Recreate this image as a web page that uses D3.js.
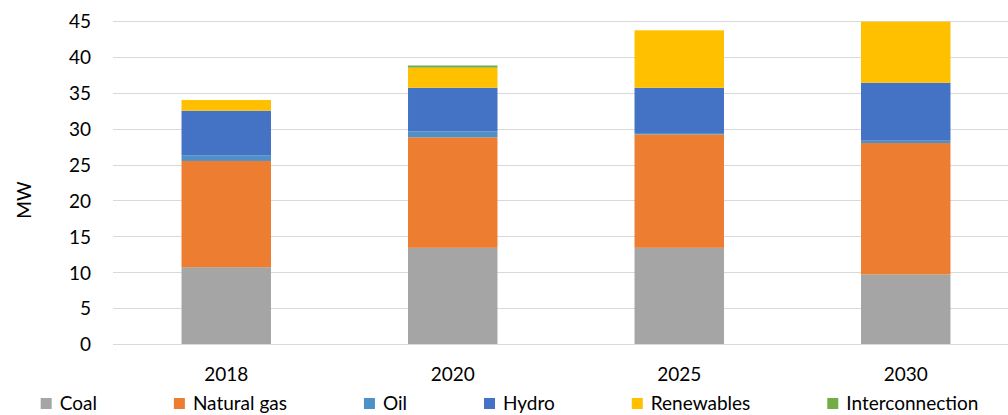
<!DOCTYPE html>
<html>
<head>
<meta charset="utf-8">
<script src="https://cdn.jsdelivr.net/npm/d3@7"></script>
<style>
  html, body { margin: 0; padding: 0; background: #fff; }
  svg { display: block; }
  text { font-family: Lato, "Open Sans", "Liberation Sans", sans-serif; fill: #000; }
</style>
</head>
<body>
<svg id="chart" width="1008" height="415"></svg>
<script>
const years = ["2018", "2020", "2025", "2030"];
const seriesNames = ["Coal", "Natural gas", "Oil", "Hydro", "Renewables", "Interconnection"];
const coal = [10.7, 13.4, 13.4, 9.7];
const naturalGas = [14.8, 15.4, 15.8, 18.3];
const oil = [0.8, 0.8, 0.2, 0.4];
const hydro = [6.2, 6.1, 6.3, 8.0];
const renewables = [1.5, 2.8, 8.0, 8.5];
const interconnection = [0, 0.3, 0, 0];
const yTicks = [0, 5, 10, 15, 20, 25, 30, 35, 40, 45];
const colors = ["#A5A5A5", "#ED7D31", "#5090C8", "#4472C4", "#FFC000", "#70AD47"];

const seriesValues = [coal, naturalGas, oil, hydro, renewables, interconnection];
const rows = years.map((y, i) => {
  const r = { year: y };
  seriesNames.forEach((s, k) => r[s] = seriesValues[k][i]);
  return r;
});
const stack = d3.stack().keys(seriesNames)(rows);

const svg = d3.select("#chart");
const margin = { left: 113, right: -11, top: 21, bottom: 71 };
const W = 1008, H = 415;

const x = d3.scaleBand().domain(years).range([margin.left, W - margin.right]).paddingInner(0.605).paddingOuter(0.3025);
const y = d3.scaleLinear().domain([0, 45]).range([H - margin.bottom, margin.top]);

// gridlines
svg.append("g").selectAll("line").data(yTicks.filter(t => t > 0)).join("line")
  .attr("x1", margin.left).attr("x2", W - margin.right)
  .attr("y1", d => Math.round(y(d)) + 0.5).attr("y2", d => Math.round(y(d)) + 0.5)
  .attr("stroke", "#D9D9D9").attr("stroke-width", 1);

// bars
const color = d3.scaleOrdinal().domain(seriesNames).range(colors);
svg.append("g").selectAll("g").data(stack).join("g")
  .attr("fill", d => color(d.key))
  .selectAll("rect").data(d => d).join("rect")
  .attr("x", d => x(d.data.year))
  .attr("width", x.bandwidth())
  .attr("y", d => y(d[1]))
  .attr("height", d => Math.max(0, y(d[0]) - y(d[1])));

// x axis line
svg.append("line")
  .attr("x1", margin.left).attr("x2", W - margin.right)
  .attr("y1", Math.round(y(0)) + 0.5).attr("y2", Math.round(y(0)) + 0.5)
  .attr("stroke", "#D9D9D9").attr("stroke-width", 1);

// y axis labels
const yAxis = d3.axisLeft(y).tickValues(yTicks).tickSize(0).tickPadding(0);
const gy = svg.append("g").attr("transform", "translate(91,0)").call(yAxis);
gy.select(".domain").remove();
gy.selectAll("text").attr("font-size", 19).attr("font-family", "Lato, sans-serif").attr("fill", "#000").attr("dy", "0.36em");

// x axis labels
const xAxis = d3.axisBottom(x).tickSize(0).tickPadding(0);
const gx = svg.append("g").attr("transform", `translate(0,${y(0) + 23})`).call(xAxis);
gx.select(".domain").remove();
gx.selectAll("text").attr("font-size", 19).attr("font-family", "Lato, sans-serif").attr("fill", "#000").attr("dy", "0.71em");

// y title
svg.append("text")
  .attr("transform", "translate(31,200) rotate(-90)")
  .attr("text-anchor", "middle")
  .attr("font-size", 19)
  .text("MW");

// legend
const legend = svg.append("g");
const items = legend.selectAll("g").data(seriesNames).join("g");
items.append("rect").attr("width", 11).attr("height", 11).attr("y", -12).attr("fill", (d, i) => colors[i]);
items.append("text").attr("x", 19).attr("font-size", 19).text(d => d);
let cx = 0;
const gap = 77;
items.each(function() {
  const w = this.getBBox().width;
  this.__x = cx;
  cx += w + gap;
});
const total = cx - gap;
const startX = 509.5 - total / 2;
items.attr("transform", function() { return `translate(${startX + this.__x},410)`; });
</script>
</body>
</html>
